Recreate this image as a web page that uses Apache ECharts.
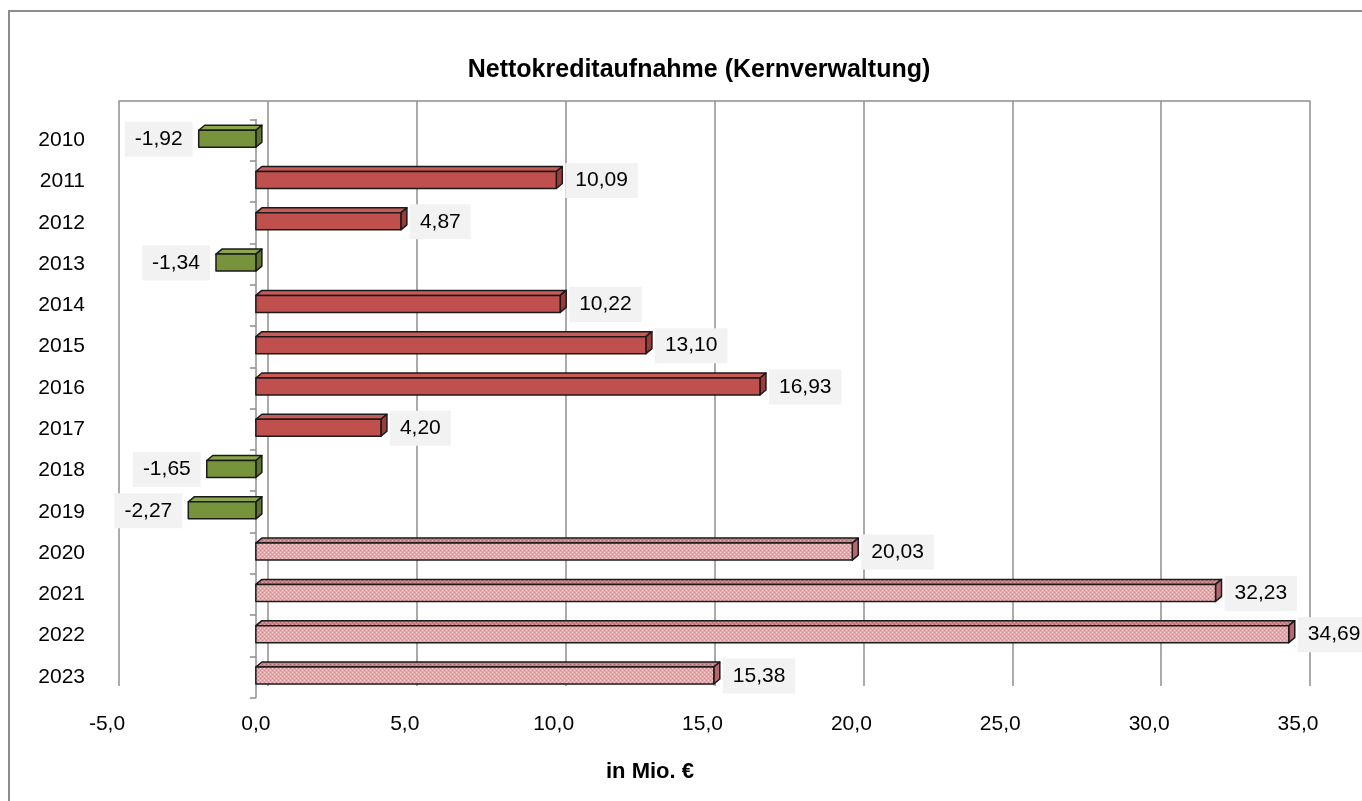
<!DOCTYPE html>
<html>
<head>
<meta charset="utf-8">
<script src="https://cdn.jsdelivr.net/npm/echarts@6/dist/echarts.min.js"></script>
<style>
  html, body { margin: 0; padding: 0; background: #fff; }
  #chart { width: 1362px; height: 801px; }
</style>
</head>
<body>
<div id="chart"></div>
<script>
// Daten (in Mio. €)
var years = ['2010', '2011', '2012', '2013', '2014', '2015', '2016', '2017', '2018', '2019', '2020', '2021', '2022', '2023'];
var values = [-1.92, 10.09, 4.87, -1.34, 10.22, 13.10, 16.93, 4.20, -1.65, -2.27, 20.03, 32.23, 34.69, 15.38];
var firstPlanYear = 2020; // ab hier Planwerte (rosa, schraffiert)
var xMin = -5, xMax = 35, xStep = 5;

var FONT = '"Liberation Sans", Arial, sans-serif';
var GRID_COLOR = '#8f8f8f';

// kleines Punktmuster fuer die Planbalken
function makePattern(base, light, dark) {
    var c = document.createElement('canvas');
    c.width = 4; c.height = 4;
    var ctx = c.getContext('2d');
    ctx.fillStyle = base; ctx.fillRect(0, 0, 4, 4);
    ctx.fillStyle = light; ctx.fillRect(0, 0, 1, 1); ctx.fillRect(2, 2, 1, 1);
    ctx.fillStyle = dark; ctx.fillRect(2, 0, 1, 1); ctx.fillRect(0, 2, 1, 1);
    return c;
}
var pinkFront = { image: makePattern('#e9a6a9', '#f7d3d5', '#d98e92'), repeat: 'repeat' };
var pinkTop = { image: makePattern('#c98387', '#dfa5a8', '#b0686c'), repeat: 'repeat' };

function fmt(v, d) { return v.toFixed(d).replace('.', ','); }

var chart = echarts.init(document.getElementById('chart'));

function renderBar(params, api) {
    var v = api.value(0);
    var i = params.dataIndex;
    var a = api.coord([0, i]);
    var b = api.coord([v, i]);
    var cy = a[1];
    var xl = Math.min(a[0], b[0]), xr = Math.max(a[0], b[0]);
    var yt = cy - 10, yb = cy + 7;
    var dx = 6, dy = -5;

    var front, top, side;
    if (+years[i] >= firstPlanYear) {
        front = pinkFront; top = pinkTop; side = '#b5676b';
    } else if (v < 0) {
        front = '#77933c'; top = '#8aa84a'; side = '#5d7530';
    } else {
        front = '#c0504d'; top = '#c95a57'; side = '#9c3c3a';
    }
    var edge = { stroke: '#1a1a1a', lineWidth: 1.5, lineJoin: 'round' };

    var label = {
        type: 'text',
        x: v >= 0 ? xr + dx + 3 : xl - 6,
        y: cy - 1,
        style: {
            text: fmt(v, 2),
            fill: '#000',
            font: '21px ' + FONT,
            backgroundColor: '#f2f2f2',
            padding: [7, 10],
            align: v >= 0 ? 'left' : 'right',
            verticalAlign: 'middle'
        }
    };

    return {
        type: 'group',
        children: [
            { type: 'polygon', shape: { points: [[xl, yt], [xl + dx, yt + dy], [xr + dx, yt + dy], [xr, yt]] },
              style: Object.assign({ fill: top }, edge) },
            { type: 'polygon', shape: { points: [[xr, yt], [xr + dx, yt + dy], [xr + dx, yb + dy], [xr, yb]] },
              style: Object.assign({ fill: side }, edge) },
            { type: 'rect', shape: { x: xl, y: yt, width: xr - xl, height: yb - yt },
              style: Object.assign({ fill: front }, edge) },
            label
        ]
    };
}

var barData = values.map(function (v, i) { return [v, i]; });

var option = {
    backgroundColor: '#fff',
    animation: false,
    graphic: [
        { type: 'rect', shape: { x: 9, y: 11, width: 1400, height: 900 },
          style: { fill: 'none', stroke: '#8c8c8c', lineWidth: 2 }, silent: true },
        { type: 'text', x: 699, y: 70,
          style: { text: 'Nettokreditaufnahme (Kernverwaltung)', font: 'bold 25px ' + FONT,
                   fill: '#000', align: 'center', verticalAlign: 'middle' } },
        { type: 'text', x: 650, y: 772,
          style: { text: 'in Mio. €', font: 'bold 22px ' + FONT,
                   fill: '#000', align: 'center', verticalAlign: 'middle' } }
    ],
    grid: [
        // Rueckwand mit Gitterlinien
        { left: 119, right: 52, top: 101, bottom: 115 },
        // vordere Ebene: Balken und Beschriftungen
        { left: 107, right: 64, top: 119.6, bottom: 103.4 },
        // Kategorieachse auf der Null-Linie
        { left: 107, right: 64, top: 119.6, bottom: 103.4 }
    ],
    xAxis: [
        { gridIndex: 0, type: 'value', min: xMin, max: xMax, interval: xStep, position: 'top',
          axisLine: { show: true, onZero: false, lineStyle: { color: GRID_COLOR, width: 1.5 } },
          axisTick: { show: false }, axisLabel: { show: false },
          splitLine: { show: true, lineStyle: { color: GRID_COLOR, width: 1.5 } } },
        { gridIndex: 1, type: 'value', min: xMin, max: xMax, interval: xStep,
          axisLine: { show: false }, axisTick: { show: false }, splitLine: { show: false },
          axisLabel: { color: '#000', fontSize: 21, fontFamily: FONT, margin: 16,
                       formatter: function (v) { return fmt(v, 1); } } },
        { gridIndex: 2, type: 'value', min: xMin, max: xMax, interval: xStep, show: false }
    ],
    yAxis: [
        { gridIndex: 0, type: 'value', min: 0, max: 1, show: false },
        { gridIndex: 1, type: 'category', data: years, inverse: true,
          axisLine: { show: false, onZero: false }, axisTick: { show: false }, splitLine: { show: false },
          axisLabel: { color: '#000', fontSize: 21, fontFamily: FONT, margin: 22 } },
        { gridIndex: 2, type: 'category', data: years, inverse: true,
          axisLine: { show: true, onZero: true, lineStyle: { color: GRID_COLOR, width: 1.5 } },
          axisTick: { show: true, length: 6, lineStyle: { color: GRID_COLOR, width: 1.5 } },
          axisLabel: { show: false }, splitLine: { show: false } }
    ],
    series: [
        {
            type: 'custom',
            xAxisIndex: 1,
            yAxisIndex: 1,
            renderItem: renderBar,
            encode: { x: 0, y: 1 },
            data: barData,
            z: 5
        }
    ]
};

chart.setOption(option);
</script>
</body>
</html>
